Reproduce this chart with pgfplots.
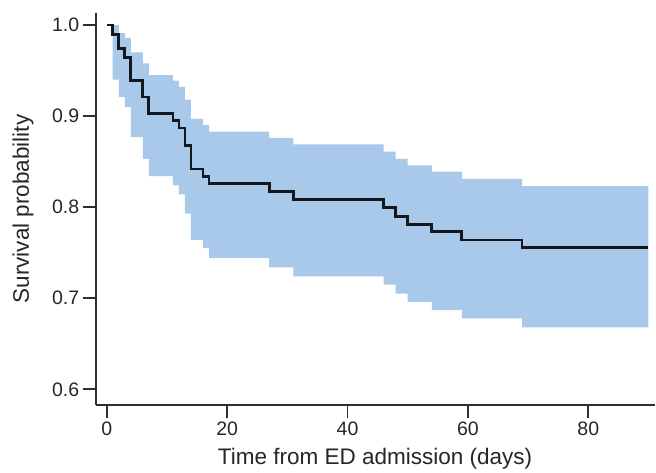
\documentclass[border=0pt]{standalone}
\usepackage{fontspec}
\setmainfont{Liberation Sans}
\usepackage{pgfplots}
\pgfplotsset{compat=1.18}
\usepgfplotslibrary{fillbetween}
\definecolor{bandblue}{HTML}{A8C9EA}
\definecolor{axisgray}{HTML}{2E2E2E}
\definecolor{curvecol}{HTML}{15171F}

\begin{document}
\begin{tikzpicture}
\begin{axis}[
  at={(95.7pt,68pt)}, anchor=south west,
  scale only axis, width=558.8pt, height=392pt,
  xmin=-1.83, xmax=91, ymin=0.5828, ymax=1.0132,
  axis x line=bottom, axis y line=left,
  axis line style={-, line width=2.3pt, axisgray},
  tick align=outside, major tick length=13pt,
  tick style={line width=1.8pt, axisgray},
  xtick={0,20,40,60,80},
  ytick={0.6,0.7,0.8,0.9,1.0},
  yticklabel style={/pgf/number format/.cd, fixed, fixed zerofill, precision=1},
  /pgf/number format/assume math mode=true,
  tick label style={font=\fontsize{19.5}{22}\selectfont, text=black!85},
  label style={font=\fontsize{22.5}{25}\selectfont, text=black!85},
  xlabel={Time from ED admission (days)},
  ylabel={Survival probability},
  xlabel style={at={(axis description cs:0.5,0)}, anchor=base, yshift=-60pt},
  ylabel style={at={(axis description cs:-0.1194,0.5)}, anchor=base},
]
% confidence band, upper and lower step edges
\addplot[name path=up, const plot, draw=none, forget plot] coordinates {
  (1,1.000) (2,0.991) (3,0.986) (4,0.970) (6,0.958) (7,0.945) (11,0.939)
  (12,0.932) (13,0.918) (14,0.897) (16,0.890) (17,0.883) (27,0.876)
  (31,0.869) (46,0.861) (48,0.853) (50,0.846) (54,0.839) (59,0.831)
  (69,0.823) (90,0.823)};
\addplot[name path=lo, const plot, draw=none, forget plot] coordinates {
  (1,0.940) (2,0.921) (3,0.910) (4,0.877) (6,0.853) (7,0.834) (11,0.824)
  (12,0.814) (13,0.793) (14,0.764) (16,0.755) (17,0.744) (27,0.734)
  (31,0.724) (46,0.715) (48,0.705) (50,0.696) (54,0.687) (59,0.678)
  (69,0.668) (90,0.668)};
\addplot[bandblue, draw=none] fill between[of=up and lo];
% Kaplan-Meier estimate
\addplot[const plot, line width=2.8pt, curvecol] coordinates {
  (0,1.000) (1,0.990) (2,0.974) (3,0.964) (4,0.939) (6,0.921) (7,0.903)
  (11,0.895) (12,0.887) (13,0.868) (14,0.842) (16,0.834) (17,0.826)
  (27,0.817) (31,0.808) (46,0.800) (48,0.790) (50,0.781) (54,0.773)
  (59,0.764) (69,0.756) (90,0.756)};
\end{axis}
\pgfresetboundingbox
\path[use as bounding box] (0pt,0pt) rectangle (656pt,473pt);
\end{tikzpicture}
\end{document}
